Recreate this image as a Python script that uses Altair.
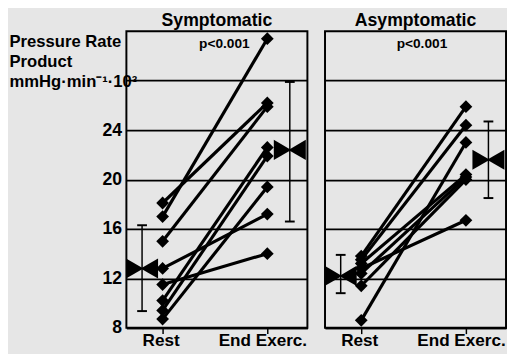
import altair as alt
import pandas as pd

# ---- data ----
groups = ["Symptomatic", "Asymptomatic"]
phases = ["Rest", "End Exerc."]

sym_rest = [17.0, 18.1, 15.0, 12.8, 11.5, 10.2, 9.4, 8.7]
sym_end = [31.4, 26.2, 25.9, 17.2, 14.0, 22.6, 21.9, 19.4]
asym_rest = [13.8, 13.5, 8.6, 13.2, 12.4, 11.4, 12.8]
asym_end = [25.9, 24.4, 23.0, 20.4, 20.2, 20.0, 16.7]

mean_rest = [12.8, 12.2]
mean_end = [22.4, 21.6]
sd_lo_rest = [9.35, 10.8]
sd_hi_rest = [16.3, 13.9]
sd_lo_end = [16.6, 18.5]
sd_hi_end = [27.9, 24.7]

p_text = ["p<0.001", "p<0.001"]
p_pos = [1.59, 1.58]
p_val = [31.0, 31.0]

y_ticks = [8, 12, 16, 20, 24, 28]
y_title = ["Pressure Rate", "Product", "mmHg·min⁻¹·10³"]

# ---- tables ----
rows = []
for g, rest, end in [(groups[0], sym_rest, sym_end), (groups[1], asym_rest, asym_end)]:
    for i, (r, e) in enumerate(zip(rest, end)):
        rows.append({"group": g, "subject": i, "pos": 1, "value": r})
        rows.append({"group": g, "subject": i, "pos": 2, "value": e})
subj = pd.DataFrame(rows)

srows = []
for k, g in enumerate(groups):
    srows.append({"group": g, "pos": 1, "mean": mean_rest[k], "lo": sd_lo_rest[k], "hi": sd_hi_rest[k]})
    srows.append({"group": g, "pos": 2, "mean": mean_end[k], "lo": sd_lo_end[k], "hi": sd_hi_end[k]})
summ = pd.DataFrame(srows)

ann = pd.DataFrame({"group": groups, "pos": p_pos, "value": p_val, "text": p_text})

FONT = "Liberation Sans"
W, H = 185, 303
xscale = alt.Scale(domain=[0.654, 2.383], nice=False, zero=False)
yscale = alt.Scale(domain=[8, 32], nice=False, zero=False)

label_expr = "datum.value == 1 ? '%s' : '%s'" % (phases[0], phases[1])


def panel(g, first):
    d = subj[subj.group == g]
    s = summ[summ.group == g]
    a = ann[ann.group == g]

    xaxis = alt.Axis(values=[1, 2], labelExpr=label_expr, title=None,
                     labelFont=FONT, labelFontSize=17.5, labelFontWeight="bold",
                     labelColor="black", labelPadding=-2, tickColor="black",
                     labelOffset={"condition": {"test": "datum.value == 2", "value": -5}, "value": -2},
                     tickSize=6, tickWidth=1.5, domainColor="black",
                     domainWidth=2, grid=False)
    if first:
        yaxis = alt.Axis(values=y_ticks,
                         labelExpr="datum.value == 28 ? '' : datum.label",
                         title=y_title, titleAngle=0,
                         titleAlign="left", titleBaseline="alphabetic",
                         titleX=-120, titleY=16, titleLineHeight=20,
                         titleFont=FONT, titleFontSize=17, titleFontWeight="bold",
                         titleColor="black",
                         labelFont=FONT, labelFontWeight="bold", labelColor="black",
                         labelFontSize=18, labelPadding=5,
                         ticks=False, domain=False, grid=True, gridColor="black",
                         gridWidth=1.8, gridOpacity=1)
    else:
        yaxis = alt.Axis(values=y_ticks, labels=False, ticks=False, domain=False,
                         title=None, grid=True, gridColor="black", gridWidth=1.8,
                         gridOpacity=1)

    X = lambda f: alt.X(f, scale=xscale)
    Y = lambda f: alt.Y(f, scale=yscale)

    lines = alt.Chart(d).mark_line(color="black", strokeWidth=3.2).encode(
        x=alt.X("pos:Q", scale=xscale, axis=xaxis),
        y=alt.Y("value:Q", scale=yscale, axis=yaxis),
        detail="subject:N",
    )
    pts = alt.Chart(d).mark_point(shape="diamond", filled=True, color="black",
                                  size=170, opacity=1).encode(
        x=X("pos:Q"), y=Y("value:Q"))
    layers = [lines, pts]
    for ph, off in [(1, -21), (2, 23)]:
        sp = s[s.pos == ph]
        base = alt.Chart(sp)
        layers.append(base.mark_rule(color="black", strokeWidth=1.5, xOffset=off).encode(
            x=X("pos:Q"), y=Y("lo:Q"), y2="hi:Q"))
        for f in ["lo", "hi"]:
            layers.append(base.mark_rule(color="black", strokeWidth=2,
                                         xOffset=off - 5, x2Offset=off + 5).encode(
                x=X("pos:Q"), x2="pos:Q", y=Y(f + ":Q")))
        layers.append(base.mark_point(shape="triangle-right", filled=True, color="black",
                                      size=420, opacity=1, xOffset=off - 7.5).encode(
            x=X("pos:Q"), y=Y("mean:Q")))
        layers.append(base.mark_point(shape="triangle-left", filled=True, color="black",
                                      size=420, opacity=1, xOffset=off + 7.5).encode(
            x=X("pos:Q"), y=Y("mean:Q")))
    layers.append(alt.Chart(a).mark_text(font=FONT, fontSize=14, fontWeight="bold",
                                         color="black").encode(
        x=X("pos:Q"), y=Y("value:Q"), text="text:N"))
    return alt.layer(*layers).properties(
        width=W, height=H,
        title=alt.TitleParams(g, font=FONT, fontSize=18, fontWeight="bold",
                              color="black", anchor="middle", offset=1))


chart = alt.hconcat(panel(groups[0], True), panel(groups[1], False), spacing=15).properties(
    padding=0, background="#e6e6e6"
).configure_view(stroke="black", strokeWidth=2, fill="#e6e6e6")

chart.save("out.html", embed_options={"renderer": "svg", "actions": False})
